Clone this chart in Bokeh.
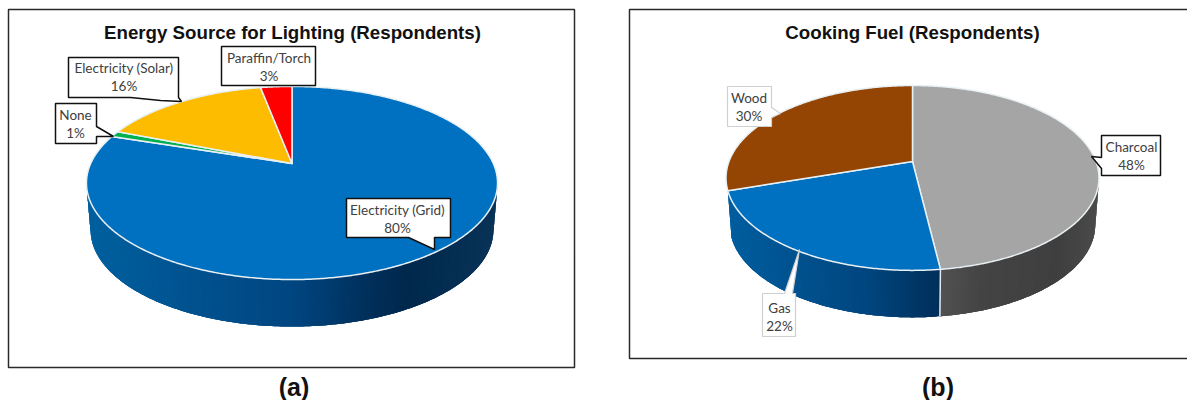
import numpy as np
from bokeh.plotting import figure
from bokeh.models import Range1d
from bokeh.core.properties import value
from bokeh.embed import file_html
from bokeh.resources import INLINE

# ---- data ----
lighting_names = ["Electricity (Grid)", "None", "Electricity (Solar)", "Paraffin/Torch"]
lighting_values = [80, 1, 16, 3]
lighting_colors = ["#0070c0", "#00b050", "#fdbc00", "#ff0000"]

cooking_names = ["Charcoal", "Gas", "Wood"]
cooking_values = [48, 22, 30]
cooking_colors = ["#a5a5a5", "#0070c0", "#944504"]

BLUE_WALL_A = [(0, "#00609f"), (.25, "#00528f"), (.5, "#004681"), (.69, "#002f5a"), (.78, "#00284d"), (1, "#0a3358")]
BLUE_WALL_B = [(0, "#005e9f"), (.3, "#00528f"), (.65, "#00467f"), (1, "#002f5a")]
GREY_WALL = [(0, "#525252"), (.25, "#444444"), (.75, "#3f3f3f"), (1, "#4b4b4b")]

p = figure(width=1187, height=400, x_range=Range1d(0, 1187), y_range=Range1d(400, 0),
           output_backend="svg", toolbar_location=None, min_border=0)
p.axis.visible = False
p.grid.visible = False
p.outline_line_color = None
p.background_fill_color = "white"


def hex2rgb(h):
    return np.array([int(h[i:i + 2], 16) for i in (1, 3, 5)], float)


def grad(stops, t):
    t = min(max(t, 0), 1)
    for (a, ca), (b, cb) in zip(stops, stops[1:]):
        if t <= b:
            c = hex2rgb(ca) + (hex2rgb(cb) - hex2rgb(ca)) * (t - a) / (b - a)
            return "#%02x%02x%02x" % tuple(int(round(v)) for v in c)
    return stops[-1][1]


def pie(values, colors, cx, cy, bx, a, k, depth, walls):
    """Pie in perspective: angles clockwise from 12 o'clock, apex at (cx, cy)."""
    def proj(deg):
        t = np.radians(deg)
        u, v = np.sin(t), -np.cos(t)
        w = 1 - k * v
        return cx + bx * u / w, cy + a * v / w

    def low(deg):
        x, y = proj(deg)
        return cx + (x - cx) * 0.98, y + depth

    edges = np.cumsum([0] + list(values)) / sum(values) * 360
    right, left = np.degrees(np.arccos(-k)), 360 - np.degrees(np.arccos(-k))

    # side wall, slice by slice; strips overlap the next one to hide seams
    seps = []
    for i, stops in enumerate(walls):
        if stops is None:
            continue
        s, e = max(edges[i], right), min(edges[i + 1], left)
        if e <= s:
            continue
        x0, x1 = proj(e)[0], proj(s)[0]
        lo, hi = min(x0, x1), max(x0, x1)
        angs = np.linspace(s, e, int((e - s) / 0.8) + 2)
        n = len(angs)
        for j in range(n - 1):
            t0, t1 = angs[j], angs[min(j + 3, n - 1)]
            mid = np.linspace(t0, t1, 4)
            top = [proj(d) for d in mid]
            bot = [low(d) for d in mid[::-1]]
            c = grad(stops, ((proj(angs[j])[0] + proj(angs[j + 1])[0]) / 2 - lo) / (hi - lo))
            p.patch([q[0] for q in top + bot], [q[1] for q in top + bot], fill_color=c, line_color=None)
        if i < len(walls) - 1 and walls[i + 1] is not None:
            seps.append(e)
    for d in seps:
        A, D = proj(d), low(d)
        p.line([A[0], D[0]], [A[1], D[1]], line_color="#e4ecf2", line_width=1.5)

    # top face
    for i, col in enumerate(colors):
        angs = np.linspace(edges[i], edges[i + 1], max(3, int(edges[i + 1] - edges[i]) * 2))
        xy = [proj(d) for d in angs]
        xs = [cx] + [q[0] for q in xy]
        ys = [cy] + [q[1] for q in xy]
        p.patch(xs, ys, fill_color=col, line_color="#e8f0f4", line_width=1.5, line_join="round")


def callout(pts, lines, tx, ty, border="#111111", lw=1.5, size="13.5px"):
    p.patch([q[0] for q in pts], [q[1] for q in pts], fill_color="white", line_color=border, line_width=lw)
    for j, s in enumerate(lines):
        p.text([tx], [ty + j * 18], text=[s], text_font=value("Lato"), text_font_size=size,
               text_align="center", text_baseline="middle", text_color="#404040")


def label(x, y, s, size):
    p.text([x], [y], text=[s], text_font=value("Liberation Sans"), text_font_style="bold", text_font_size=size,
           text_align="center", text_baseline="middle", text_color="#111111")


# frames
p.patch([8, 574, 574, 8], [9, 9, 367, 367], fill_color="white", line_color="#2a2a2a", line_width=1.5)
p.patch([629, 1195, 1195, 629], [9, 9, 358, 358], fill_color="white", line_color="#2a2a2a", line_width=1.5)

pie(lighting_values, lighting_colors, 291.5, 163, 201.3, 92.6, 0.202, 47, [BLUE_WALL_A, None, None, None])
pie(cooking_values, cooking_colors, 912, 161, 183.5, 89.5, 0.178, 47, [GREY_WALL, BLUE_WALL_B, None])

label(292, 32, "Energy Source for Lighting (Respondents)", "18.7px")
label(912, 32, "Cooking Fuel (Respondents)", "18.7px")
label(293.5, 386, "(a)", "25px")
label(937.5, 386, "(b)", "25px")

pct = lambda names, vals, i: [names[i], f"{vals[i]}%"]
callout([(221, 46), (315, 46), (315, 85), (292, 85), (280, 85), (264, 85), (221, 85)],
        pct(lighting_names, lighting_values, 3), 268.5, 57)
callout([(68, 57), (178, 57), (178, 97), (181, 101), (160, 100), (130, 97), (68, 97)],
        pct(lighting_names, lighting_values, 2), 123.5, 67)
callout([(55, 103), (96, 103), (96, 126), (113, 136), (96, 136), (96, 143), (55, 143)],
        pct(lighting_names, lighting_values, 1), 75, 114.5)
callout([(346, 198), (450, 198), (450, 237), (434, 237), (434, 249), (408, 237), (346, 237)],
        pct(lighting_names, lighting_values, 0), 397, 209)
callout([(727, 86), (771, 86), (771, 107), (780, 113), (771, 117), (771, 126), (727, 126)],
        pct(cooking_names, cooking_values, 2), 748.5, 97, border="#d0d0d0", lw=1.2)
callout([(1101, 135), (1160, 135), (1160, 175), (1101, 175), (1101, 168), (1091, 156), (1101, 157)],
        pct(cooking_names, cooking_values, 0), 1131, 146)
callout([(762, 293), (784, 293), (799, 249), (792, 293), (795, 293), (795, 336), (762, 336)],
        pct(cooking_names, cooking_values, 1), 779, 307, border="#d0d0d0", lw=1.2)

open("out.html", "w").write(file_html(p, INLINE))
